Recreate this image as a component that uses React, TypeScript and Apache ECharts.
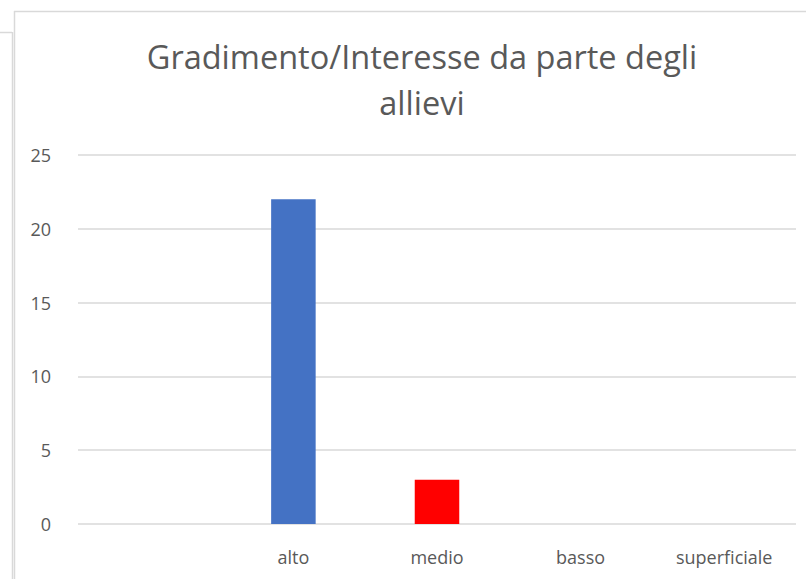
import React, { useEffect, useRef } from "react";
import * as echarts from "echarts";

const categories = ["", "alto", "medio", "basso", "superficiale"];
const values = [0, 22, 3, 0, 0];
const barColors = ["#4472C4", "#4472C4", "#FF0000", "#4472C4", "#4472C4"];
const titleText = "Gradimento/Interesse da parte degli\nallievi";

export default function App() {
  const ref = useRef<HTMLDivElement>(null);
  useEffect(() => {
    if (!ref.current) return;
    const chart = echarts.init(ref.current, undefined, { renderer: "svg" });
    chart.setOption({
      animation: false,
      backgroundColor: "#ffffff",
      title: {
        text: titleText,
        left: 417,
        top: 28,
        textAlign: "center",
        textStyle: {
          fontFamily: "Open Sans",
          fontSize: 32.5,
          fontWeight: "normal",
          color: "#595959",
          lineHeight: 46,
        },
      },
      graphic: [
        { type: "line", shape: { x1: 0, y1: 32.5, x2: 12, y2: 32.5 }, style: { stroke: "#d9d9d9", lineWidth: 1.5 } },
        { type: "line", shape: { x1: 12.5, y1: 32, x2: 12.5, y2: 579 }, style: { stroke: "#d9d9d9", lineWidth: 1.5 } },
        { type: "line", shape: { x1: 14, y1: 11.5, x2: 806, y2: 11.5 }, style: { stroke: "#d9d9d9", lineWidth: 1.5 } },
        { type: "line", shape: { x1: 14.5, y1: 11, x2: 14.5, y2: 579 }, style: { stroke: "#d9d9d9", lineWidth: 1.5 } },
      ],
      grid: { left: 78, right: 10, top: 155, bottom: 55, containLabel: false },
      xAxis: {
        type: "category",
        data: categories,
        axisLine: { show: false },
        axisTick: { show: false },
        axisLabel: { color: "#595959", fontSize: 18, fontFamily: "Open Sans", margin: 24, interval: 0 },
      },
      yAxis: {
        type: "value",
        min: 0,
        max: 25,
        interval: 5,
        axisLine: { show: false },
        axisTick: { show: false },
        axisLabel: { color: "#595959", fontSize: 18, fontFamily: "Open Sans", margin: 27 },
        splitLine: { lineStyle: { color: "#d9d9d9", width: 1.5 } },
      },
      series: [
        {
          type: "bar",
          data: values.map((v, i) => ({ value: v, itemStyle: { color: barColors[i] } })),
          barWidth: "31%",
        },
      ],
    });
    return () => chart.dispose();
  }, []);
  return <div ref={ref} style={{ width: 806, height: 579, position: "absolute", left: 0, top: 0 }} />;
}
